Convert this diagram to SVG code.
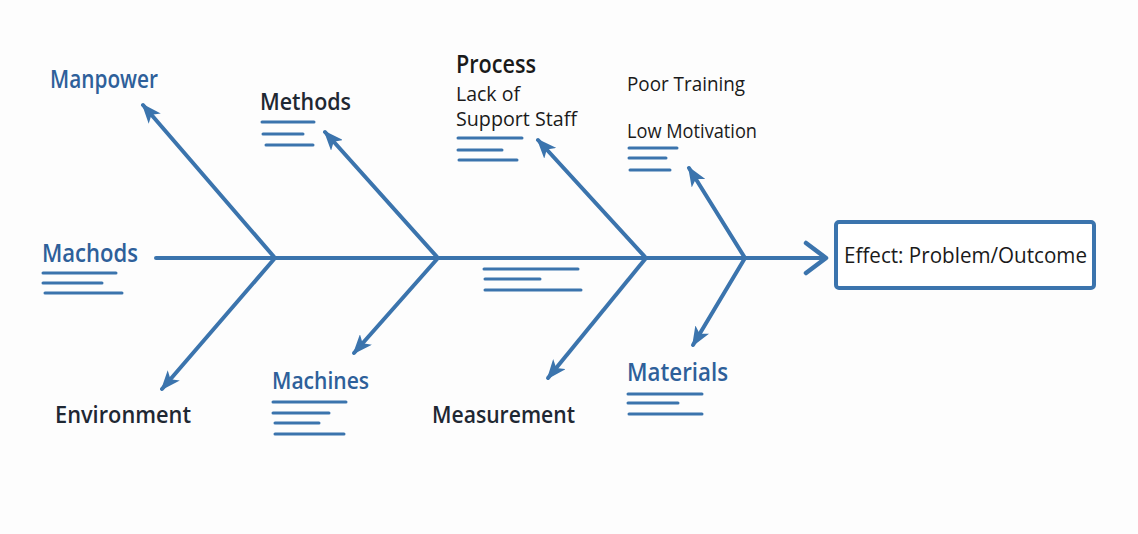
<svg xmlns="http://www.w3.org/2000/svg" width="1138" height="534" viewBox="0 0 1138 534">
<defs>
<marker id="ah" viewBox="0 0 20 16" refX="18" refY="8" markerWidth="20" markerHeight="16" markerUnits="userSpaceOnUse" orient="auto">
<path d="M0,0 L20,8 L0,16 L5,8 Z" fill="#3b74ad"/>
</marker>
<style>
.bone{stroke:#3b74ad;stroke-width:4;fill:none;stroke-linecap:round;marker-end:url(#ah)}
.ul{stroke:#3b74ad;stroke-width:3;stroke-linecap:round;fill:none}
.t{font-family:"Open Sans","Noto Sans",sans-serif;font-weight:600}
.s{font-family:"Open Sans","Noto Sans",sans-serif;font-weight:500}
.blue{fill:#2e609a}
.dark{fill:#1f2833}
.blk{fill:#1a1a1a}
</style>
</defs>
<rect width="1138" height="534" fill="#fdfdfd"/>
<g id="connectors">
<line x1="156" y1="258" x2="824" y2="258" stroke="#3b74ad" stroke-width="4" stroke-linecap="round"/>
<polyline points="806,243 826,258 806,273" fill="none" stroke="#3b74ad" stroke-width="4.5" stroke-linecap="round" stroke-linejoin="round"/>
<line class="bone" x1="275" y1="258" x2="143" y2="105"/>
<line class="bone" x1="275" y1="258" x2="162" y2="389"/>
<line class="bone" x1="438" y1="258" x2="325" y2="132"/>
<line class="bone" x1="438" y1="258" x2="354" y2="353"/>
<line class="bone" x1="646" y1="258" x2="538" y2="140"/>
<line class="bone" x1="646" y1="258" x2="548" y2="378"/>
<line class="bone" x1="745" y1="258" x2="689" y2="168"/>
<line class="bone" x1="745" y1="258" x2="693" y2="345"/>
<g id="spine-notes">
<line class="ul" x1="484" y1="269" x2="578" y2="269"/>
<line class="ul" x1="485" y1="279" x2="540" y2="279"/>
<line class="ul" x1="485" y1="290" x2="581" y2="290"/>
</g>
</g>
<g id="manpower">
<text class="t blue" x="50" y="88" font-size="26" textLength="108" lengthAdjust="spacingAndGlyphs">Manpower</text>
</g>
<g id="methods">
<text class="t dark" x="260" y="110" font-size="24" textLength="91" lengthAdjust="spacingAndGlyphs">Methods</text>
<line class="ul" x1="262" y1="122" x2="314" y2="122"/>
<line class="ul" x1="263" y1="134" x2="303" y2="134"/>
<line class="ul" x1="266" y1="145" x2="313" y2="145"/>
</g>
<g id="process">
<text class="t blk" x="456" y="73" font-size="25" textLength="80" lengthAdjust="spacingAndGlyphs">Process</text>
<text class="s blk" x="456" y="101" font-size="20" textLength="64" lengthAdjust="spacingAndGlyphs">Lack of</text>
<text class="s blk" x="456" y="126" font-size="20" textLength="121" lengthAdjust="spacingAndGlyphs">Support Staff</text>
<line class="ul" x1="458" y1="138" x2="522" y2="138"/>
<line class="ul" x1="458" y1="150" x2="502" y2="150"/>
<line class="ul" x1="459" y1="160" x2="517" y2="160"/>
</g>
<g id="training">
<text class="s blk" x="627" y="91" font-size="20" textLength="118" lengthAdjust="spacingAndGlyphs">Poor Training</text>
<text class="s blk" x="627" y="138" font-size="20" textLength="130" lengthAdjust="spacingAndGlyphs">Low Motivation</text>
<line class="ul" x1="629" y1="148" x2="677" y2="148"/>
<line class="ul" x1="629" y1="158" x2="666" y2="158"/>
<line class="ul" x1="630" y1="170" x2="670" y2="170"/>
</g>
<g id="machods">
<text class="t blue" x="42" y="262" font-size="26" textLength="96" lengthAdjust="spacingAndGlyphs">Machods</text>
<line class="ul" x1="43" y1="273" x2="116" y2="273"/>
<line class="ul" x1="43" y1="283" x2="102" y2="283"/>
<line class="ul" x1="45" y1="293" x2="122" y2="293"/>
</g>
<g id="environment">
<text class="t dark" x="55" y="423" font-size="24" textLength="136" lengthAdjust="spacingAndGlyphs">Environment</text>
</g>
<g id="machines">
<text class="t blue" x="272" y="389" font-size="24" textLength="97" lengthAdjust="spacingAndGlyphs">Machines</text>
<line class="ul" x1="273" y1="402" x2="346" y2="402"/>
<line class="ul" x1="273" y1="413" x2="329" y2="413"/>
<line class="ul" x1="275" y1="423" x2="319" y2="423"/>
<line class="ul" x1="275" y1="434" x2="344" y2="434"/>
</g>
<g id="measurement">
<text class="t dark" x="432" y="423" font-size="24" textLength="143" lengthAdjust="spacingAndGlyphs">Measurement</text>
</g>
<g id="materials">
<text class="t blue" x="627" y="381" font-size="26" textLength="101" lengthAdjust="spacingAndGlyphs">Materials</text>
<line class="ul" x1="628" y1="394" x2="702" y2="394"/>
<line class="ul" x1="628" y1="403" x2="678" y2="403"/>
<line class="ul" x1="629" y1="414" x2="702" y2="414"/>
</g>
<g id="effect">
<rect x="836" y="222" width="258" height="66" rx="3" fill="#ffffff" stroke="#3b74ad" stroke-width="4"/>
<text class="s blk" x="844" y="263" font-size="22" textLength="243" lengthAdjust="spacingAndGlyphs">Effect: Problem/Outcome</text>
</g>
</svg>
